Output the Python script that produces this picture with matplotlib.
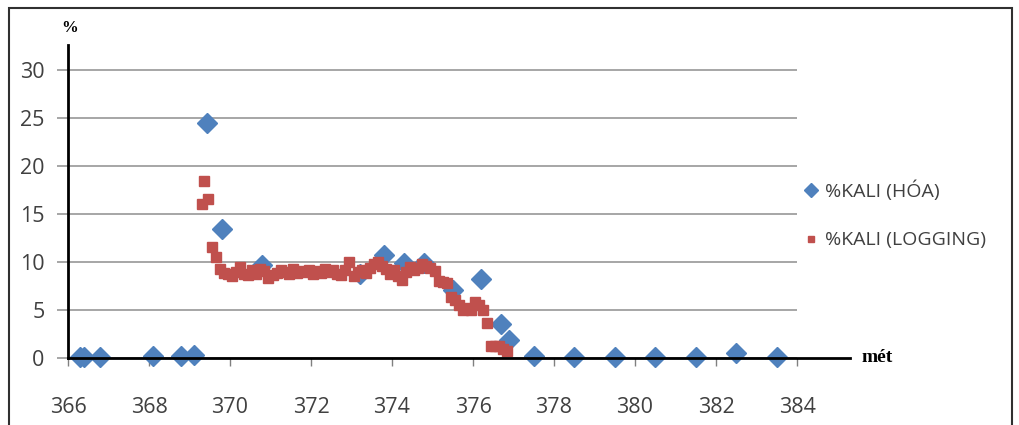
import matplotlib
matplotlib.use("Agg")
import matplotlib.pyplot as plt
from matplotlib.lines import Line2D
from matplotlib.patches import Rectangle

# ---- data ----
hoa_depth = [366.3, 366.4, 366.8, 368.1, 368.8, 369.1, 369.43, 369.8, 370.8,
             373.2, 373.8, 374.3, 374.8, 375.5, 376.2, 376.7, 376.9, 377.5,
             378.5, 379.5, 380.5, 381.5, 382.5, 383.5]
hoa_kali = [0.1, 0.1, 0.1, 0.2, 0.2, 0.3, 24.5, 13.4, 9.7,
            8.7, 10.7, 9.9, 9.9, 7.1, 8.2, 3.5, 1.9, 0.2,
            0.1, 0.1, 0.1, 0.1, 0.5, 0.1]

log_depth = [369.3, 369.35, 369.45, 369.55, 369.65, 369.75, 369.85, 369.95,
             370.05, 370.15, 370.25, 370.35, 370.45, 370.55, 370.65, 370.75,
             370.85, 370.95, 371.05, 371.15, 371.25, 371.35, 371.45, 371.55,
             371.65, 371.75, 371.85, 371.95, 372.05, 372.15, 372.25, 372.35,
             372.45, 372.55, 372.65, 372.75, 372.85, 372.95, 373.05, 373.15,
             373.25, 373.35, 373.45, 373.55, 373.65, 373.75, 373.85, 373.95,
             374.05, 374.15, 374.25, 374.35, 374.45, 374.55, 374.65, 374.75,
             374.85, 374.95, 375.05, 375.15, 375.25, 375.35, 375.45, 375.55,
             375.65, 375.75, 375.85, 375.95, 376.05, 376.15, 376.25, 376.35,
             376.45, 376.55, 376.65, 376.75, 376.85]
log_kali = [16.0, 18.4, 16.6, 11.6, 10.5, 9.3, 8.9, 8.7,
            8.5, 9.0, 9.5, 8.8, 8.6, 9.2, 8.7, 9.3,
            9.1, 8.3, 8.6, 8.9, 9.2, 9.0, 8.8, 9.3,
            8.9, 9.1, 9.0, 9.2, 8.8, 9.1, 8.9, 9.3,
            9.0, 9.2, 8.7, 8.6, 9.2, 10.0, 8.5, 9.0,
            9.2, 8.9, 9.4, 9.8, 10.0, 9.6, 9.3, 8.8,
            9.2, 8.5, 8.1, 9.0, 9.5, 9.2, 9.4, 9.8,
            9.6, 9.4, 9.1, 8.0, 7.9, 7.8, 6.4, 6.0,
            5.5, 5.0, 5.2, 5.0, 5.8, 5.5, 5.0, 3.6,
            1.3, 1.2, 1.3, 0.9, 0.7]

x_ticks = [366, 368, 370, 372, 374, 376, 378, 380, 382, 384]
y_ticks = [0, 5, 10, 15, 20, 25, 30]
label_hoa = "%KALI (HÓA)"
label_log = "%KALI (LOGGING)"

# ---- figure ----
W, H = 1019, 425
fig = plt.figure(figsize=(W / 100, H / 100), dpi=100)
fig.patch.set_facecolor("white")

x0, x1 = 68, 797
y0, ytop = 358, 45
ax = fig.add_axes([x0 / W, 1 - y0 / H, (x1 - x0) / W, (y0 - ytop) / H])
ax.set_xlim(366, 384)
ax.set_ylim(0, (y0 - ytop) / 9.6)

ax.set_yticks(y_ticks)
ax.set_xticks(x_ticks)
ax.yaxis.grid(True, color="#a6a6a6", linewidth=1.4)
ax.set_axisbelow(True)

for s in ["top", "right"]:
    ax.spines[s].set_visible(False)
ax.spines["bottom"].set_visible(False)
ax.spines["left"].set_color("black")
ax.spines["left"].set_linewidth(2)

ax.tick_params(axis="y", length=8, width=1.4, color="#a6a6a6",
               labelsize=15.5, labelcolor="#404040", pad=9)
ax.tick_params(axis="x", length=6, width=1, color="#808080",
               labelsize=15.5, labelcolor="#404040", pad=22)
for lbl in ax.get_xticklabels() + ax.get_yticklabels():
    lbl.set_fontfamily("Open Sans")

# extended x axis line
ax.add_line(Line2D([0, (850 - x0) / (x1 - x0)], [0, 0], transform=ax.transAxes,
                   color="black", linewidth=2, clip_on=False, zorder=5))

ax.plot(hoa_depth, hoa_kali, linestyle="none", marker="D", markersize=10,
        color="#4F81BD", markeredgecolor="#4F81BD", label=label_hoa,
        clip_on=False, zorder=3)
ax.plot(log_depth, log_kali, linestyle="none", marker="s", markersize=6.5,
        color="#C0504D", markeredgecolor="#C0504D", label=label_log,
        clip_on=False, zorder=4)

leg = ax.legend(loc="upper left", bbox_to_anchor=(797 / W, 1 - 173 / H),
                bbox_transform=fig.transFigure, frameon=False,
                prop={"family": "Open Sans", "size": 14},
                handlelength=0.6, handletextpad=0.45, labelspacing=1.55,
                markerscale=0.7, borderaxespad=0)
for t in leg.get_texts():
    t.set_color("#404040")

fig.text(70 / W, 1 - 28 / H, "%", fontsize=12, fontweight="bold",
         family="Liberation Serif", ha="center", va="center")
fig.text(862 / W, 1 - 358 / H, "mét", fontsize=14, fontweight="bold",
         family="Liberation Serif", ha="left", va="center")

# outer frame
fig.add_artist(Rectangle((9 / W, -0.05), (1012 - 9) / W, 1.05 - 8 / H,
                         transform=fig.transFigure, fill=False,
                         edgecolor="#303030", linewidth=1.5))

fig.savefig("out.png", dpi=100)
